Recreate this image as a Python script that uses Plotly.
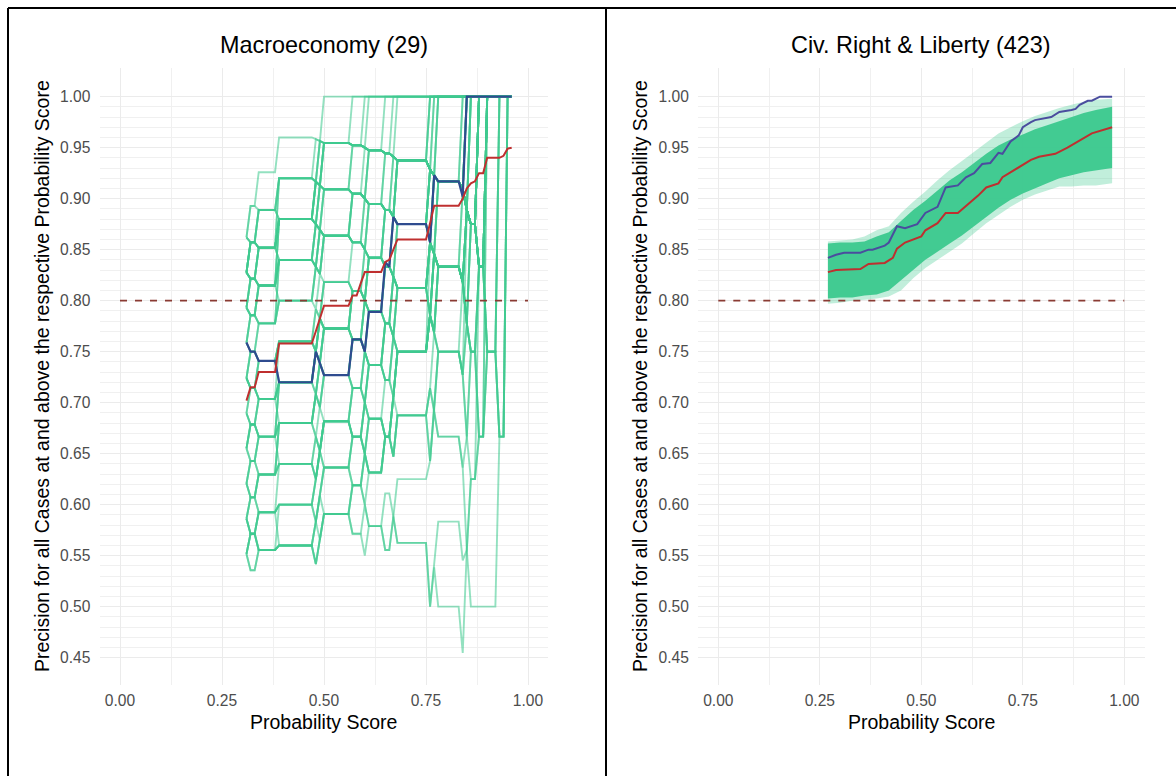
import plotly.graph_objects as go

# ---------------- Macroeconomy (29 cases) ----------------
macro_thresholds = [
    0.31, 0.32, 0.33, 0.34, 0.35, 0.36, 0.37, 0.38, 0.39, 0.40, 0.41,
    0.42, 0.43, 0.44, 0.45, 0.46, 0.47, 0.48, 0.49, 0.50, 0.51, 0.52,
    0.53, 0.54, 0.55, 0.56, 0.57, 0.58, 0.59, 0.60, 0.61, 0.62, 0.63,
    0.64, 0.65, 0.66, 0.67, 0.68, 0.69, 0.70, 0.71, 0.72, 0.73, 0.74,
    0.75, 0.76, 0.77, 0.78, 0.79, 0.80, 0.81, 0.82, 0.83, 0.84, 0.85,
    0.86, 0.87, 0.88, 0.89, 0.90, 0.91, 0.92, 0.93, 0.94, 0.95, 0.96,
]

# probability scores of the 29 coded cases (ascending)
macro_case_scores = [
    0.312, 0.333, 0.382, 0.386, 0.474, 0.483, 0.494,
    0.566, 0.597, 0.604, 0.641, 0.662, 0.674,
    0.752, 0.757, 0.766, 0.773,
    0.836, 0.842, 0.845, 0.853, 0.872, 0.877, 0.893, 0.897,
    0.926, 0.946, 0.962, 0.968,
]

# simulated correctness of each case (same order as the scores), one row per draw
macro_sim_labels = [
    "1010110 110111 1111 11111111 1111",
    "0101001 011111 1111 11111111 1111",
    "0011010 101111 1111 11111111 1111",
    "1100101 110011 1111 11111111 1111",
    "0110011 011101 1111 11111111 1111",
    "1001100 101110 1111 11111111 1111",
    "0100111 110110 0111 11111111 1111",
    "1011001 011011 1110 11111111 1111",
    "0010110 101101 1011 11111111 1111",
    "1100010 110101 1101 01111111 1111",
    "0101101 011010 1011 10111111 1111",
    "1011010 101011 0110 11011111 1111",
    "0100100 010101 1101 11101111 1111",
    "1001011 110010 0111 11110111 1111",
    "0110100 011011 1011 11111011 1111",
    "1010001 100110 1110 11111101 1111",
    "0001110 111111 1111 11111111 1111",
    "1101000 101101 0111 11111110 1111",
    "0110101 010111 1011 11011101 1111",
    "1010010 101010 1101 11110110 1111",
    "0100011 011001 1110 10111011 1111",
    "1001010 100111 0101 11101111 1111",
    "0011001 110100 1011 11111100 1111",
    "1100100 011110 0111 01111011 1111",
    "0101011 101001 1101 11011110 1111",
    "1010100 010110 1011 11110111 0111",
    "0110010 110101 0110 11111011 1111",
    "1001101 011011 1101 10110111 1111",
    "0011100 101100 1011 11101101 1011",
    "1100011 010111 1110 11111111 1111",
    "0101110 110110 1111 11011111 1111",
    "1010101 101011 0111 11101111 1111",
    "0010011 011111 1101 11111011 1111",
    "1101010 111011 1011 01111111 1111",
    "0110001 101110 1111 11110111 1111",
    "1000110 110111 1110 11111101 1111",
    "0111011 011110 1101 11111111 1111",
    "1011101 111010 1111 11111110 1111",
    "1110100 010000 0101 10110111 1111",
    "1000100 010100 0101 10110111 1111",
    "0000101 100100 1010 11010111 1111",
    "1010000 011000 0110 11101011 1111",
    "0100001 001101 1001 11011111 1111",
    "1001000 100101 0110 10111101 1111",
    "0010010 010011 1001 11101110 1111",
    "1110001 001010 1010 01101011 1111",
    "0101000 100110 0011 11011011 1111",
    "1000011 011001 0101 11110110 1111",
    "0011000 101010 1100 10011111 0111",
    "0100110 001110 1010 01101111 1111",
    "1010100 101101 1011 11111001 0011",
    "0101010 011011 0111 11110110 0111",
    "1001010 110110 1101 10101101 1011",
    "0101110 011011 1101 10000001 1111",
    "1000011 111111 1111 11111111 1011",
    "0110101 111111 1111 11111110 1111",
    "1001110 111111 1111 11101111 1111",
    "0100001 111111 1111 10111111 1111",
    "1010110 011111 1111 11111111 0111",
    "0110000 111111 0111 11111111 1111",
    "1100110 111111 1110 11111111 1111",
    "0011101 111111 1011 11110111 1111",
    "1010011 111110 1111 11111101 1111",
    "0101101 111101 1111 11011111 1111",
    "1001011 110111 1111 11111111 1011",
    "0110110 111011 1101 11111111 1111",
    "0110100 101100 0100 11010110 1111",
    "1001001 011010 1001 10101011 1111",
    "0101100 110101 1100 10100100 1111",
]

macro_observed = [
    0.759, 0.750, 0.750, 0.741, 0.741, 0.741, 0.741, 0.741, 0.720, 0.720, 0.720,
    0.720, 0.720, 0.720, 0.720, 0.720, 0.720, 0.750, 0.739, 0.727, 0.727, 0.727,
    0.727, 0.727, 0.727, 0.727, 0.762, 0.762, 0.762, 0.750, 0.789, 0.789, 0.789,
    0.789, 0.838, 0.833, 0.882, 0.875, 0.875, 0.875, 0.875, 0.875, 0.875, 0.875,
    0.875, 0.857, 0.923, 0.917, 0.917, 0.917, 0.917, 0.917, 0.917, 0.902, 1.000,
    1.000, 1.000, 1.000, 1.000, 1.000, 1.000, 1.000, 1.000, 1.000, 1.000, 1.000,
]

macro_expected = [
    0.702, 0.715, 0.715, 0.730, 0.730, 0.730, 0.730, 0.730, 0.758, 0.758, 0.758,
    0.758, 0.758, 0.758, 0.758, 0.758, 0.758, 0.770, 0.782, 0.795, 0.795, 0.795,
    0.795, 0.795, 0.795, 0.795, 0.805, 0.805, 0.817, 0.828, 0.828, 0.828, 0.828,
    0.828, 0.838, 0.840, 0.850, 0.860, 0.860, 0.860, 0.860, 0.860, 0.860, 0.860,
    0.860, 0.876, 0.893, 0.893, 0.893, 0.893, 0.893, 0.893, 0.893, 0.900, 0.910,
    0.915, 0.917, 0.925, 0.925, 0.940, 0.940, 0.940, 0.940, 0.942, 0.949, 0.950,
]

# ---------------- Civ. Right & Liberty (423 cases) ----------------
civ_observed_x = [
    0.27, 0.29, 0.31, 0.35, 0.37, 0.38, 0.41, 0.42, 0.44, 0.46, 0.49, 0.51,
    0.54, 0.56, 0.59, 0.61, 0.63, 0.65, 0.67, 0.69, 0.70, 0.72, 0.74, 0.75,
    0.77, 0.78, 0.82, 0.84, 0.87, 0.88, 0.89, 0.91, 0.92, 0.94, 0.97,
]
civ_observed = [
    0.842, 0.845, 0.847, 0.847, 0.850, 0.850, 0.854, 0.857, 0.873, 0.871, 0.875, 0.886,
    0.892, 0.911, 0.913, 0.921, 0.925, 0.934, 0.935, 0.945, 0.944, 0.956, 0.962, 0.970,
    0.975, 0.977, 0.980, 0.985, 0.987, 0.988, 0.992, 0.996, 0.996, 1.000, 1.000,
]

civ_expected_x = [
    0.27, 0.29, 0.35, 0.37, 0.41, 0.43, 0.44, 0.46, 0.50, 0.51, 0.54, 0.56, 0.59,
    0.61, 0.64, 0.66, 0.69, 0.70, 0.74, 0.77, 0.79, 0.83, 0.86, 0.89, 0.92, 0.97,
]
civ_expected = [
    0.828, 0.830, 0.831, 0.836, 0.837, 0.842, 0.851, 0.857, 0.863, 0.869, 0.876, 0.886, 0.886,
    0.893, 0.903, 0.911, 0.915, 0.921, 0.931, 0.938, 0.941, 0.944, 0.950, 0.957, 0.964, 0.970,
]

# spread of the simulated precision curves
civ_band_x = [
    0.27, 0.30, 0.33, 0.36, 0.39, 0.42, 0.45, 0.48, 0.51, 0.54, 0.57, 0.60,
    0.63, 0.66, 0.69, 0.72, 0.75, 0.78, 0.81, 0.84, 0.87, 0.90, 0.93, 0.97,
]
civ_outer_hi = [
    0.858, 0.859, 0.860, 0.863, 0.869, 0.873, 0.886, 0.897, 0.907, 0.918, 0.928, 0.937,
    0.946, 0.955, 0.964, 0.970, 0.976, 0.981, 0.985, 0.989, 0.992, 0.995, 0.997, 0.998,
]
civ_inner_hi = [
    0.856, 0.857, 0.857, 0.858, 0.863, 0.867, 0.878, 0.889, 0.898, 0.908, 0.918, 0.926,
    0.935, 0.944, 0.952, 0.958, 0.963, 0.968, 0.972, 0.976, 0.980, 0.984, 0.987, 0.990,
]
civ_inner_lo = [
    0.802, 0.803, 0.803, 0.805, 0.806, 0.810, 0.820, 0.830, 0.840, 0.848, 0.856, 0.864,
    0.873, 0.882, 0.891, 0.899, 0.905, 0.910, 0.915, 0.920, 0.923, 0.926, 0.928, 0.930,
]
civ_outer_lo = [
    0.797, 0.798, 0.800, 0.801, 0.802, 0.804, 0.810, 0.822, 0.832, 0.840, 0.848, 0.856,
    0.866, 0.876, 0.884, 0.892, 0.899, 0.904, 0.908, 0.912, 0.912, 0.913, 0.913, 0.915,
]

target_precision = 0.80
y_ticks = [0.45, 0.50, 0.55, 0.60, 0.65, 0.70, 0.75, 0.80, 0.85, 0.90, 0.95, 1.00]
x_ticks = [0.00, 0.25, 0.50, 0.75, 1.00]

# ---------------- styling ----------------
W, H = 1176, 776
FONT = "Liberation Sans, Arial, Helvetica, sans-serif"
SIM_GREEN = "rgba(62,201,143,0.56)"
GREEN_SOLID = "rgba(62,201,143,0.97)"
GREEN_LIGHT = "rgba(62,201,143,0.32)"
OBS_BLUE = "#2f4b8f"
OBS_BLUE_R = "#4a4d9e"
EXP_RED = "#bf2f2f"
DASH_COL = "#8a3b33"


def precision_curve(labels):
    bits = [int(c) for c in labels.replace(" ", "")]
    out = []
    for t in macro_thresholds:
        kept = [b for s, b in zip(macro_case_scores, bits) if s >= t]
        out.append(sum(kept) / len(kept))
    return out


fig = go.Figure()

# left panel: simulated curves
for lab in macro_sim_labels:
    fig.add_trace(go.Scatter(
        x=macro_thresholds, y=precision_curve(lab), mode="lines",
        line=dict(color=SIM_GREEN, width=1.9), hoverinfo="skip",
        showlegend=False, xaxis="x", yaxis="y"))

fig.add_trace(go.Scatter(x=[0, 1], y=[target_precision, target_precision], mode="lines",
                         line=dict(color=DASH_COL, width=1.8, dash="7px,8px"),
                         showlegend=False, xaxis="x", yaxis="y"))
fig.add_trace(go.Scatter(x=macro_thresholds, y=macro_observed, mode="lines",
                         line=dict(color=OBS_BLUE, width=2.2), showlegend=False,
                         xaxis="x", yaxis="y"))
fig.add_trace(go.Scatter(x=macro_thresholds, y=macro_expected, mode="lines",
                         line=dict(color=EXP_RED, width=2.0), showlegend=False,
                         xaxis="x", yaxis="y"))

# right panel: band of simulated curves
fig.add_trace(go.Scatter(
    x=civ_band_x + civ_band_x[::-1], y=civ_outer_hi + civ_outer_lo[::-1],
    fill="toself", fillcolor=GREEN_LIGHT, line=dict(width=0), mode="lines",
    hoverinfo="skip", showlegend=False, xaxis="x2", yaxis="y2"))
fig.add_trace(go.Scatter(
    x=civ_band_x + civ_band_x[::-1], y=civ_inner_hi + civ_inner_lo[::-1],
    fill="toself", fillcolor=GREEN_SOLID, line=dict(width=0), mode="lines",
    hoverinfo="skip", showlegend=False, xaxis="x2", yaxis="y2"))
fig.add_trace(go.Scatter(x=[0, 1], y=[target_precision, target_precision], mode="lines",
                         line=dict(color=DASH_COL, width=1.8, dash="7px,8px"),
                         showlegend=False, xaxis="x2", yaxis="y2"))
fig.add_trace(go.Scatter(x=civ_observed_x, y=civ_observed, mode="lines",
                         line=dict(color=OBS_BLUE_R, width=2.0), showlegend=False,
                         xaxis="x2", yaxis="y2"))
fig.add_trace(go.Scatter(x=civ_expected_x, y=civ_expected, mode="lines",
                         line=dict(color=EXP_RED, width=2.0), showlegend=False,
                         xaxis="x2", yaxis="y2"))

y_minor = [round(0.45 + 0.01 * i, 2) for i in range(56)]


def x_axis(domain, anchor):
    return dict(domain=domain, anchor=anchor, range=[-0.05, 1.05],
                tickmode="array", tickvals=x_ticks,
                ticktext=["%.2f" % v for v in x_ticks],
                showgrid=True, gridcolor="#ebebeb", gridwidth=1.3,
                minor=dict(dtick=0.125, tick0=0, showgrid=True,
                           gridcolor="#f0f0f0", gridwidth=0.8),
                zeroline=False, showline=False, ticks="outside", ticklen=1,
                tickcolor="rgba(0,0,0,0)",
                tickfont=dict(family=FONT, size=15.6, color="#4d4d4d"))


def y_axis(anchor):
    return dict(domain=[1 - 685 / H, 1 - 68 / H], anchor=anchor,
                range=[0.4232, 1.0281], tickmode="array", tickvals=y_ticks,
                ticktext=["%.2f" % v for v in y_ticks],
                showgrid=True, gridcolor="#ebebeb", gridwidth=1.3,
                minor=dict(tickmode="array", tickvals=y_minor, showgrid=True,
                           gridcolor="#f0f0f0", gridwidth=0.8),
                zeroline=False, showline=False, ticks="outside", ticklen=5,
                tickcolor="rgba(0,0,0,0)",
                tickfont=dict(family=FONT, size=15.6, color="#4d4d4d"))


fig.update_layout(
    width=W, height=H, margin=dict(l=0, r=0, t=0, b=0),
    paper_bgcolor="white", plot_bgcolor="white", showlegend=False,
    xaxis=x_axis([99.6 / W, 548.4 / W], "y"),
    yaxis=y_axis("x"),
    xaxis2=x_axis([698.0 / W, 1144.6 / W], "y2"),
    yaxis2=y_axis("x2"),
)

ann = []
for cx, title in [(324, "Macroeconomy (29)"), (921, "Civ. Right & Liberty (423)")]:
    ann.append(dict(x=cx / W, y=1 - 45 / H, xref="paper", yref="paper",
                    text=title, showarrow=False, xanchor="center", yanchor="middle",
                    font=dict(family=FONT, size=23.4, color="black")))
    ann.append(dict(x=cx / W, y=1 - 722 / H, xref="paper", yref="paper",
                    text="Probability Score", showarrow=False, xanchor="center",
                    yanchor="middle", font=dict(family=FONT, size=19.5, color="black")))
for cx in [42, 640]:
    ann.append(dict(x=cx / W, y=1 - 376 / H, xref="paper", yref="paper",
                    text="Precision for all Cases at and above the respective Probability Score",
                    textangle=-90, showarrow=False, xanchor="center", yanchor="middle",
                    font=dict(family=FONT, size=19.5, color="black")))
fig.update_layout(annotations=ann)

# panel frames
frame = dict(color="black", width=2)
fig.update_layout(shapes=[
    dict(type="line", xref="paper", yref="paper", x0=8 / W, x1=1.0,
         y0=1 - 8 / H, y1=1 - 8 / H, line=frame),
    dict(type="line", xref="paper", yref="paper", x0=8 / W, x1=8 / W,
         y0=0, y1=1 - 8 / H, line=frame),
    dict(type="line", xref="paper", yref="paper", x0=606 / W, x1=606 / W,
         y0=0, y1=1 - 8 / H, line=frame),
])

fig.write_html("out.html")
